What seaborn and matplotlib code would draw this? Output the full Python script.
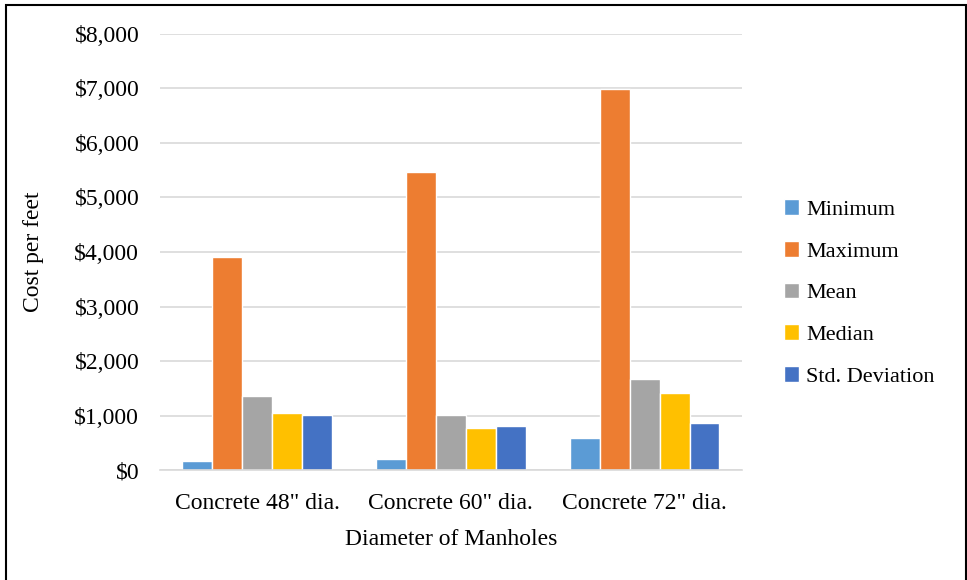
import pandas as pd
import seaborn as sns
import matplotlib.pyplot as plt
from matplotlib.patches import Rectangle
from matplotlib.ticker import FuncFormatter

# values
categories = ['Concrete 48" dia.', 'Concrete 60" dia.', 'Concrete 72" dia.']
stats = ["Minimum", "Maximum", "Mean", "Median", "Std. Deviation"]
minimum = [180, 210, 590]
maximum = [3910, 5460, 6980]
mean = [1360, 1010, 1680]
median = [1045, 770, 1425]
std_dev = [1010, 805, 865]
colors = ["#5B9BD5", "#ED7D31", "#A5A5A5", "#FFC000", "#4472C4"]

rows = []
for stat, vals in zip(stats, [minimum, maximum, mean, median, std_dev]):
    for cat, v in zip(categories, vals):
        rows.append({"Diameter": cat, "Statistic": stat, "Cost": v})
df = pd.DataFrame(rows)

sns.set_style("white")
plt.rcParams['font.family'] = ['Liberation Serif', 'DejaVu Serif']
plt.rcParams['text.color'] = 'black'

fig = plt.figure(figsize=(9.67, 5.8), dpi=100)
ax = fig.add_axes([0.1655, 0.189, 0.6015, 0.753])

sns.barplot(data=df, x="Diameter", y="Cost", hue="Statistic",
            hue_order=stats, palette=colors, width=0.77, gap=0,
            saturation=1, ax=ax, legend=True)

ax.set_ylim(0, 8000)
ax.set_yticks(range(0, 8001, 1000))
ax.yaxis.set_major_formatter(FuncFormatter(lambda v, p: f"${int(v):,}"))
ax.grid(axis="y", color="#d9d9d9", linewidth=1.2)
ax.set_axisbelow(True)
for s in ["top", "right", "left"]:
    ax.spines[s].set_visible(False)
ax.spines["bottom"].set_color("#d9d9d9")
ax.spines["bottom"].set_linewidth(1.2)
ax.tick_params(axis="both", length=0, labelsize=17, labelcolor="black")
ax.tick_params(axis="x", pad=16)
ax.tick_params(axis="y", pad=15)
for lbl in ax.get_xticklabels() + ax.get_yticklabels():
    lbl.set_fontfamily(['Liberation Serif', 'DejaVu Serif'])
ax.set_xlabel("Diameter of Manholes", fontsize=17, labelpad=11, color="black")
ax.set_ylabel("Cost per feet", fontsize=17, labelpad=22, color="black")

handles, labels = ax.get_legend_handles_labels()
ax.get_legend().remove()
fig.legend(handles, labels, loc="center left", bbox_to_anchor=(0.79, 0.495),
           frameon=False, fontsize=16, handlelength=0.7, handleheight=0.7,
           handletextpad=0.3, labelspacing=0.95)

fig.patches.append(Rectangle((6 / 967, -0.05), 960 / 967, 1.05 - 5 / 580,
                             transform=fig.transFigure, fill=False,
                             edgecolor="black", linewidth=1.5))

fig.savefig("out.png", dpi=100)
